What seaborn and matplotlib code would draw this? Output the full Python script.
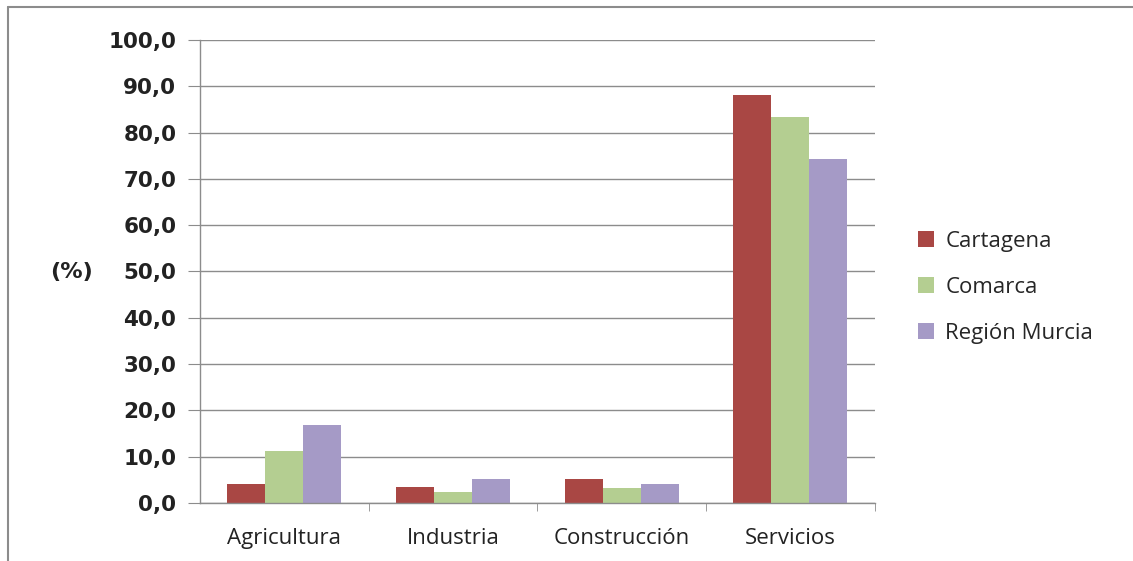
import pandas as pd
import matplotlib.pyplot as plt
import seaborn as sns
from matplotlib.ticker import FuncFormatter, FixedLocator

# data
sectores = ["Agricultura", "Industria", "Construcción", "Servicios"]
cartagena = [4.0, 3.5, 5.1, 88.1]
comarca = [11.3, 2.3, 3.2, 83.4]
region_murcia = [16.9, 5.1, 4.0, 74.4]
series = ["Cartagena", "Comarca", "Región Murcia"]
colores = ["#A94744", "#B4CE91", "#A59AC6"]

df = pd.DataFrame({
    "Sector": sectores * 3,
    "Zona": [s for s in series for _ in sectores],
    "Valor": cartagena + comarca + region_murcia,
})

sns.set_style("white")
plt.rcParams['font.family'] = ['DejaVu Sans']

fig = plt.figure(figsize=(11.33, 5.61), dpi=100)
ax = fig.add_axes([0.1765, 0.1034, 0.5955, 0.8253])

sns.barplot(data=df, x="Sector", y="Valor", hue="Zona", order=sectores,
            hue_order=series, palette=colores, width=0.675, gap=0,
            saturation=1, linewidth=0, ax=ax, legend=True)

ax.set_ylim(0, 100)
ax.set_xlim(-0.5, 3.5)
ax.set_yticks(range(0, 101, 10))
ax.yaxis.set_major_formatter(FuncFormatter(lambda v, p: f"{v:.1f}".replace(".", ",")))
ax.grid(axis='y', color='#8c8c8c', linewidth=1)
ax.set_axisbelow(True)

for s in ["top", "right"]:
    ax.spines[s].set_visible(False)
for s in ["left", "bottom"]:
    ax.spines[s].set_color('#8c8c8c')
    ax.spines[s].set_linewidth(1)

ax.tick_params(axis='y', which='major', length=9, color='#8c8c8c', direction='out',
               labelsize=15.5, pad=8, left=True)
for lbl in ax.get_yticklabels():
    lbl.set_fontweight('bold')
    lbl.set_color('#222222')

ax.tick_params(axis='x', which='major', length=0, labelsize=16, pad=18,
               labelfontfamily='Open Sans', labelcolor='#222222')
ax.xaxis.set_minor_locator(FixedLocator([0.5, 1.5, 2.5, 3.5]))
ax.tick_params(axis='x', which='minor', length=6, color='#8c8c8c', direction='out', bottom=True)

ax.set_xlabel("")
ax.set_ylabel("")
fig.text(0.063, 0.515, "(%)", fontsize=16, fontweight='bold', color='#222222',
         ha='center', va='center')

h, l = ax.get_legend_handles_labels()
ax.get_legend().remove()
fig.legend(h, l, loc='center left', bbox_to_anchor=(0.793, 0.488), frameon=False,
           prop={'family': 'Open Sans', 'size': 16}, handlelength=0.7, handleheight=0.7,
           handletextpad=0.5, labelspacing=1.12)

# outer chart border (top and left visible)
fig.add_artist(plt.Line2D([0.007, 1.0], [0.988, 0.988], color='#8c8c8c', linewidth=1.5,
                          transform=fig.transFigure))
fig.add_artist(plt.Line2D([0.007, 0.007], [0.0, 0.988], color='#8c8c8c', linewidth=1.5,
                          transform=fig.transFigure))

fig.savefig("out.png", dpi=100)
